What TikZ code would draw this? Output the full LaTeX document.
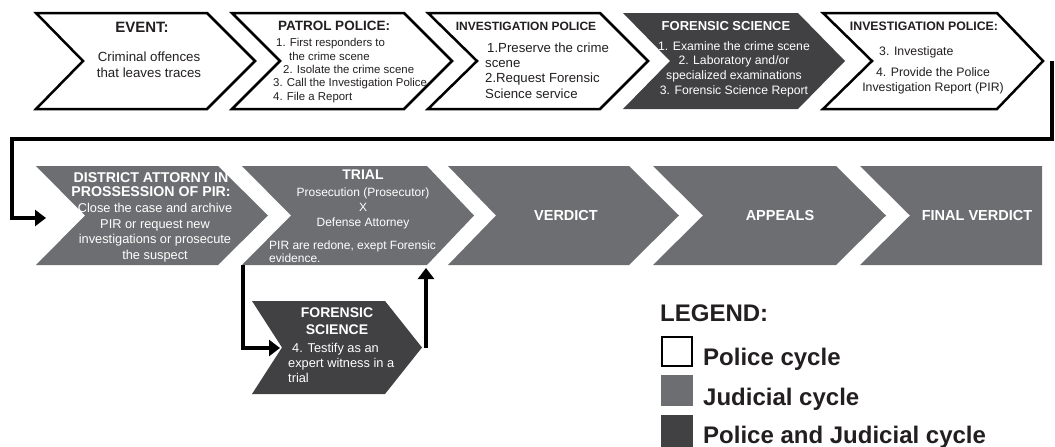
\documentclass[tikz,border=0pt]{standalone}
\usepackage{fontspec}
\setmainfont{Liberation Sans}
\usetikzlibrary{arrows.meta}
\definecolor{judgray}{HTML}{6D6E71}
\definecolor{bothgray}{HTML}{414042}
\definecolor{txt}{HTML}{231F20}
\newcommand{\fsz}[2]{\fontsize{#1}{#2}\selectfont}
% style, left, notch depth, top-right, tip, top, bottom
\newcommand{\chevshape}[7]{%
  \path[#1] (#2,#6) -- (#4,#6) -- (#5,{(#6+#7)/2}) -- (#4,#7) -- (#2,#7) -- ({#2+#3},{(#6+#7)/2}) -- cycle;}
\begin{document}
\begin{tikzpicture}[x=1pt,y=-1pt,
  police/.style={draw=black, line width=2.5pt, fill=white, line join=miter},
  judicial/.style={fill=judgray},
  both/.style={fill=bothgray},
  lbl/.style={inner sep=0pt, text=txt},
  wlbl/.style={inner sep=0pt, text=white},
  conn/.style={draw=black, line width=4pt, -{Triangle[length=11pt,width=16pt]}},
]
\useasboundingbox (0,0) rectangle (1055,447);

% ---------- top row ----------
\chevshape{police}{36}{47}{207}{255}{13}{109}
\chevshape{police}{232}{48}{404}{452}{13}{109}
\chevshape{police}{428}{49}{600}{648}{13}{109}
\chevshape{both}{623}{47}{798}{845}{13}{109}
\chevshape{police}{823}{49}{997}{1043}{13}{109}

\node[lbl, font=\bfseries\fsz{15}{17}] (evT) at (142,27) {EVENT:};
\node[lbl, align=center, font=\fsz{13.3}{16}] (evB) at (149,65) {Criminal offences\\that leaves traces};

\node[lbl, font=\bfseries\fsz{13.5}{15}] (paT) at (334,26) {PATROL POLICE:};
\node[lbl, align=left, anchor=west, font=\fsz{11.4}{13.3}] (paB) at (273,70.5)
  {\hspace*{3pt}1. First responders to\\\hspace*{16pt}the crime scene\\\hspace*{10pt}2. Isolate the crime scene\\3. Call the Investigation Police\\4. File a Report};

\node[lbl, font=\bfseries\fsz{12}{14}] (ivT) at (526,26) {INVESTIGATION POLICE};
\node[lbl, align=left, anchor=west, font=\fsz{13.2}{15.2}] (ivB) at (485,70.5)
  {\hspace*{2pt}1.Preserve the crime\\scene\\2.Request Forensic\\Science service};

\node[wlbl, font=\bfseries\fsz{13}{15}] (foT) at (726,26) {FORENSIC SCIENCE};
\node[wlbl, align=center, font=\fsz{12.2}{14.7}] (foB) at (734,69)
  {1. Examine the crime scene\\2. Laboratory and/or\\specialized examinations\\3. Forensic Science Report};

\node[lbl, font=\bfseries\fsz{12.3}{14}] (i2T) at (924,26) {INVESTIGATION POLICE:};
\node[lbl, anchor=west, font=\fsz{12.3}{14}] (i2a) at (879,52) {3. Investigate};
\node[lbl, align=center, font=\fsz{12.3}{15}] (i2b) at (933,80.5) {4. Provide the Police\\Investigation Report (PIR)};

% ---------- bottom row ----------
\chevshape{judicial}{36}{49}{218}{268}{166}{265}
\chevshape{judicial}{242}{49}{427}{474}{166}{265}
\chevshape{judicial}{448}{48}{629}{679}{166}{265}
\chevshape{judicial}{653}{50}{836}{886}{166}{265}
\path[judicial] (860,166) -- (1042,166) -- (1042,265) -- (860,265) -- (910,215.5) -- cycle;

\node[wlbl, align=center, font=\bfseries\fsz{14.2}{14}] (daT) at (151,185) {DISTRICT ATTORNY IN\\PROSSESSION OF PIR:};
\node[wlbl, align=center, font=\fsz{12.8}{15.5}] (daB) at (155,232.5)
  {Close the case and archive\\PIR or request new\\investigations or prosecute\\the suspect};

\node[wlbl, font=\bfseries\fsz{14}{15}] (trT) at (363,175) {TRIAL};
\node[wlbl, align=center, font=\fsz{12}{15}] (trB) at (363,208) {Prosecution (Prosecutor)\\X\\Defense Attorney};
\node[wlbl, align=left, anchor=west, font=\fsz{12}{13}] (trC) at (269,251.5) {PIR are redone, exept Forensic\\evidence.};

\node[wlbl, font=\bfseries\fsz{14.5}{16}] (veT) at (566,216) {VERDICT};
\node[wlbl, font=\bfseries\fsz{14.5}{16}] (apT) at (780,216) {APPEALS};
\node[wlbl, font=\bfseries\fsz{14.5}{16}] (fvT) at (977,216) {FINAL VERDICT};

% ---------- forensic testimony ----------
\chevshape{both}{252}{30}{385}{422}{301}{394}
\node[wlbl, align=center, font=\bfseries\fsz{14}{17}] (sfT) at (337,321.5) {FORENSIC\\SCIENCE};
\node[wlbl, align=left, anchor=west, font=\fsz{12.8}{15}] (sfB) at (288,363)
  {\hspace*{4pt}4. Testify as an\\expert witness in a\\trial};

% ---------- connectors ----------
\coordinate (c1) at (1052,61);
\coordinate (bendL) at (12,139);
\coordinate (daIn) at (46,218);
\draw[conn] (c1) |- (bendL) |- (daIn);

\coordinate (trOut) at (243,265);
\coordinate (sfIn) at (280,348);
\draw[conn] (trOut) |- (sfIn);

\coordinate (sfOut) at (426,348);
\coordinate (trIn) at (426,268);
\draw[conn] (sfOut) -- (trIn);

% ---------- legend ----------
\node[lbl, anchor=west, font=\bfseries\fsz{24}{26}] (lgT) at (660,313.5) {LEGEND:};
\node[draw=black, fill=white, line width=2pt, minimum width=30pt, minimum height=29pt, inner sep=0pt] (lb1) at (677,351) {};
\node[fill=judgray, minimum width=32pt, minimum height=31pt, inner sep=0pt] (lb2) at (677,390.5) {};
\node[fill=bothgray, minimum width=32pt, minimum height=32pt, inner sep=0pt] (lb3) at (677,431) {};
\node[lbl, anchor=west, font=\bfseries\fsz{24}{26}] (lt1) at (703,359) {Police cycle};
\node[lbl, anchor=west, font=\bfseries\fsz{24}{26}] (lt2) at (703,399) {Judicial cycle};
\node[lbl, anchor=west, font=\bfseries\fsz{24}{26}] (lt3) at (703,437) {Police and Judicial cycle};
\end{tikzpicture}
\end{document}
